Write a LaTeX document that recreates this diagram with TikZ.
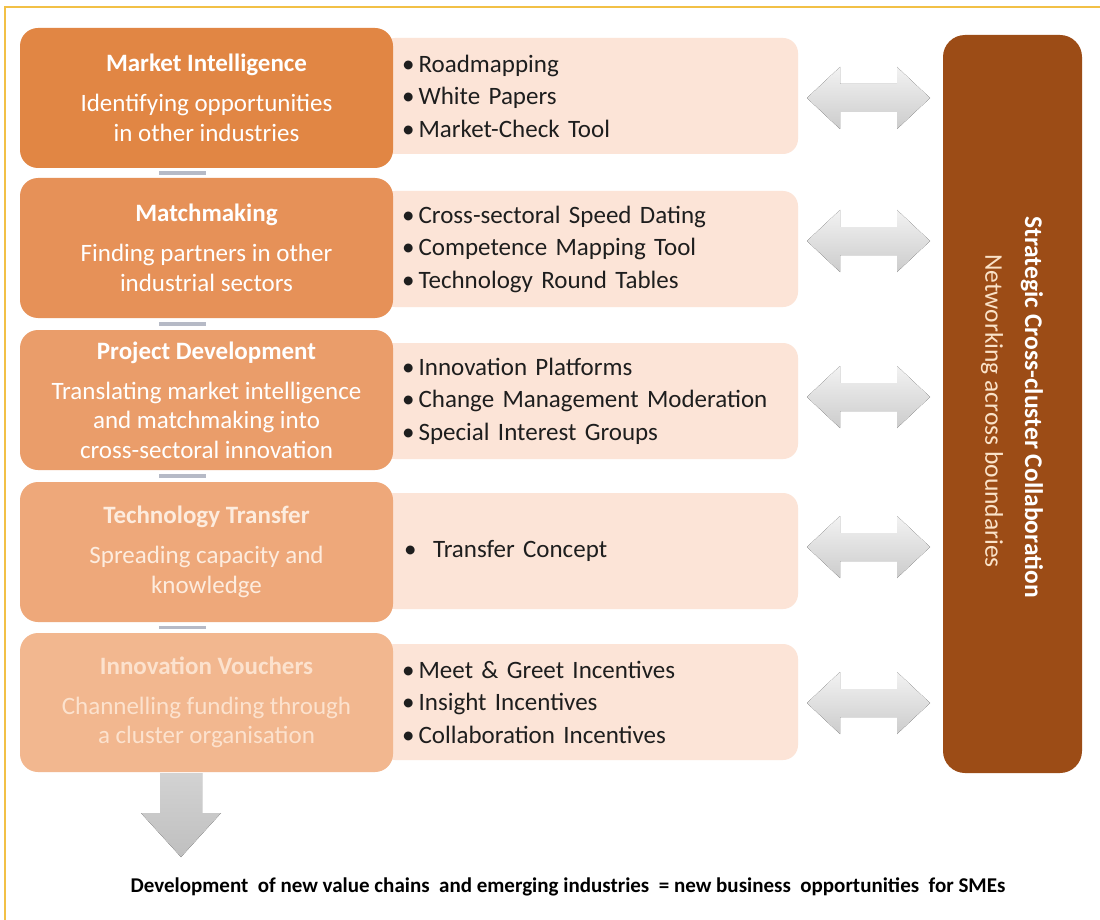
\documentclass[tikz,border=0pt]{standalone}
\usepackage{fontspec}
\setmainfont{Carlito}
\usetikzlibrary{calc}
\definecolor{orA}{RGB}{225,134,68}
\definecolor{orB}{RGB}{230,145,88}
\definecolor{orC}{RGB}{234,157,106}
\definecolor{orD}{RGB}{238,168,122}
\definecolor{orE}{RGB}{242,183,143}
\definecolor{pinkbox}{RGB}{252,228,215}
\definecolor{brownbox}{RGB}{156,76,22}
\definecolor{framegold}{RGB}{242,192,70}
\definecolor{barcol}{RGB}{182,186,198}
\definecolor{txtdark}{RGB}{30,30,30}
\definecolor{subcream}{RGB}{250,226,200}
\definecolor{txtD}{RGB}{253,236,222}
\definecolor{txtE}{RGB}{252,226,206}
\tikzset{
  leftbox/.style={rounded corners=18pt, minimum width=373pt, minimum height=140pt,
    inner sep=0pt, align=center, text=white, font=\fontsize{25}{29.5}\selectfont},
  rightbox/.style={rounded corners=15pt, fill=pinkbox, minimum width=418pt, minimum height=116pt,
    inner xsep=22pt, inner ysep=0pt, text width=374pt, align=left, text=txtdark,
    font=\fontsize{25}{32.5}\selectfont},
  dblarrow/.style={top color=gray!10, bottom color=gray!40, draw=none},
  bar/.style={fill=barcol, draw=none},
}
\newcommand{\ttl}[1]{\textbf{#1}\\[10.5pt]}
\begin{document}
\begin{tikzpicture}[x=1pt,y=-1pt]
\useasboundingbox (0,0) rectangle (1100,920);
\fill[white] (0,0) rectangle (1100,920);
% frame
\draw[framegold, line width=1.2pt] (5,920) -- (5,7) -- (1100,7);

% right (pink) boxes
\node[rightbox] (rb1) at (589,96) {\textbullet\,Roadmapping\\\textbullet\,White Papers\\\textbullet\,Market-Check Tool};
\node[rightbox] (rb2) at (589,249) {\textbullet\,Cross-sectoral Speed Dating\\\textbullet\,Competence Mapping Tool\\\textbullet\,Technology Round Tables};
\node[rightbox] (rb3) at (589,401) {\textbullet\,Innovation Platforms\\\textbullet\,Change Management Moderation\\\textbullet\,Special Interest Groups};
\node[rightbox] (rb4) at (589,551) {\hspace*{2pt}\textbullet\ \ Transfer Concept};
\node[rightbox] (rb5) at (589,702) {\textbullet\,Meet \& Greet Incentives\\\textbullet\,Insight Incentives\\\textbullet\,Collaboration Incentives};

% left boxes
\node[leftbox, fill=orA] (lb1) at (206.5,98) {\ttl{Market Intelligence}Identifying opportunities\\in other industries};
\node[leftbox, fill=orB] (lb2) at (206.5,248) {\ttl{Matchmaking}Finding partners in other\\industrial sectors};
\node[leftbox, fill=orC] (lb3) at (206.5,400) {\ttl{Project Development}Translating market intelligence\\and matchmaking into\\cross-sectoral innovation};
\node[leftbox, fill=orD, text=txtD] (lb4) at (206.5,552) {\ttl{Technology Transfer}Spreading capacity and\\knowledge};
\node[leftbox, fill=orE, text=txtE, minimum height=139pt] (lb5) at (206.5,702.5) {\ttl{Innovation Vouchers}Channelling funding through\\a cluster organisation};

% small bars between left boxes
\foreach \a/\b in {lb1/lb2,lb2/lb3,lb3/lb4,lb4/lb5}{
  \path ($(\a.south)!0.5!(\b.north)$) coordinate (m);
  \fill[bar] ($(m)+(-48,-1.6)$) rectangle ($(m)+(-1,1.6)$);
}

% tall brown box
\node[rounded corners=22pt, fill=brownbox, minimum width=139pt, minimum height=738pt, inner sep=0pt] (tall) at (1012.5,404) {};
\node[rotate=-90, text=white, font=\fontsize{25.5}{30}\bfseries\selectfont] (tallT) at (1032,407) {Strategic Cross-cluster Collaboration};
\node[rotate=-90, text=subcream, font=\fontsize{25.5}{30}\selectfont] (tallS) at (992,411) {Networking across boundaries};

% double arrows
\foreach \r/\c in {rb1/98, rb2/241, rb3/397, rb4/547, rb5/703}{
  \fill[dblarrow] (807,\c) -- (840,\c-31) -- (840,\c-14) -- (897,\c-14) -- (897,\c-31)
    -- (930,\c) -- (897,\c+31) -- (897,\c+14) -- (840,\c+14) -- (840,\c+31) -- cycle;
}

% down arrow
\fill[top color=gray!35, bottom color=gray!50] (160,773) -- (202,773) -- (202,813) -- (221,813)
  -- (181,857) -- (141,813) -- (160,813) -- cycle;

% bottom text
\node[font=\fontsize{21}{24}\bfseries\selectfont, text=black] (bottom) at (568,887)
  {Development\ \ of new value chains\ \ and emerging industries\ \ = new business\ \ opportunities\ \ for SMEs};
\end{tikzpicture}
\end{document}
